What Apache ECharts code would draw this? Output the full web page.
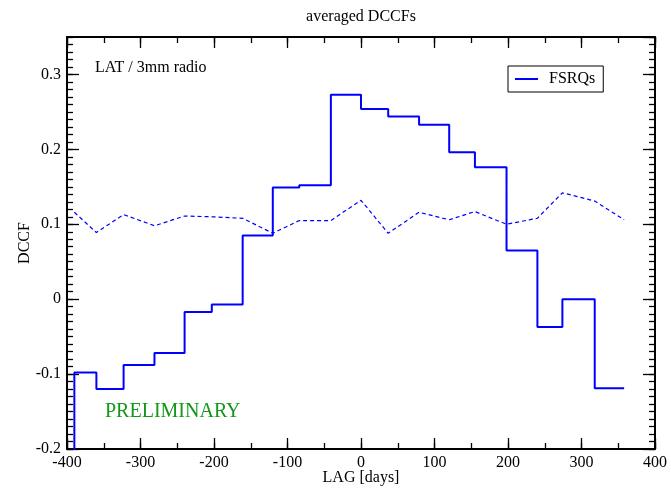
<!DOCTYPE html>
<html>
<head>
<meta charset="utf-8">
<script src="https://cdn.jsdelivr.net/npm/echarts@6/dist/echarts.min.js"></script>
<style>
html,body{margin:0;padding:0;background:#fff;}
#chart{width:671px;height:489px;}
</style>
</head>
<body>
<div id="chart"></div>
<script>
// Lag values (days) of the averaged DCCF bins
var lags = [-390, -360, -323, -281, -240, -203, -161, -120, -84, -41, 0, 37, 79, 120, 155, 198, 240, 274, 318, 358];
// FSRQs averaged DCCF (solid stairs); first value lies below the plotted range
var fsrqDCCF = [-0.30, -0.098, -0.120, -0.088, -0.072, -0.017, -0.007, 0.085, 0.149, 0.152, 0.273, 0.254, 0.244, 0.233, 0.196, 0.176, 0.065, -0.037, 0.000, -0.119];
// dashed reference curve
var refDCCF = [0.116, 0.089, 0.113, 0.098, 0.111, 0.110, 0.108, 0.088, 0.105, 0.105, 0.132, 0.088, 0.116, 0.106, 0.117, 0.100, 0.108, 0.142, 0.131, 0.106];
var xTicks = [-400, -300, -200, -100, 0, 100, 200, 300, 400];
var yTicks = [-0.2, -0.1, 0, 0.1, 0.2, 0.3];

var FONT = '"Liberation Serif", "DejaVu Serif", serif';
var chart = echarts.init(document.getElementById('chart'), null, {renderer: 'canvas'});

function zip(a, b) { return a.map(function (v, i) { return [v, b[i]]; }); }

var xMin = xTicks[0], xMax = xTicks[xTicks.length - 1];
var yMin = yTicks[0], yMax = 0.35;

function xAx(pos, interval, len, major, label) {
  return {
    type: 'value', position: pos, min: xMin, max: xMax, interval: interval,
    axisLine: {show: major, onZero: false, lineStyle: {color: '#000', width: 2}},
    axisTick: {show: true, inside: true, length: len, lineStyle: {color: '#000', width: 1.3}},
    axisLabel: {show: label, color: '#000', fontFamily: FONT, fontSize: 16, margin: 6},
    splitLine: {show: false},
    name: label ? 'LAG [days]' : '', nameLocation: 'middle', nameGap: 21, nameMoveOverlap: false,
    nameTextStyle: {color: '#000', fontFamily: FONT, fontSize: 16}
  };
}
function yAx(pos, interval, len, major, label) {
  return {
    type: 'value', position: pos, min: yMin, max: yMax, interval: interval,
    axisLine: {show: major, onZero: false, lineStyle: {color: '#000', width: 2}},
    axisTick: {show: true, inside: true, length: len, lineStyle: {color: '#000', width: 1.3}},
    axisLabel: {show: label, color: '#000', fontFamily: FONT, fontSize: 16, margin: 6,
      showMaxLabel: false,
      formatter: function (v) { return yTicks.some(function (t) { return Math.abs(t - v) < 1e-9; }) ? String(Math.round(v * 10) / 10) : ''; }},
    splitLine: {show: false},
    name: label ? 'DCCF' : '', nameLocation: 'middle', nameGap: 34, nameRotate: 90, nameMoveOverlap: false,
    nameTextStyle: {color: '#000', fontFamily: FONT, fontSize: 16}
  };
}

var option = {
  backgroundColor: '#fff',
  animation: false,
  grid: {left: 67, right: 16, top: 37, bottom: 40, containLabel: false, outerBoundsMode: 'none'},
  xAxis: [
    xAx('bottom', 100, 11, true, true),
    xAx('bottom', 50, 6, false, false),
    xAx('top', 100, 11, true, false),
    xAx('top', 50, 6, false, false)
  ],
  yAxis: [
    yAx('left', 0.1, 12, true, true),
    yAx('left', 0.01, 6, false, false),
    yAx('right', 0.1, 12, true, false),
    yAx('right', 0.01, 6, false, false)
  ],
  legend: {
    data: [{name: 'FSRQs', icon: 'rect'}],
    left: 508, top: 66,
    orient: 'vertical',
    itemWidth: 23, itemHeight: 2,
    padding: [5, 8, 5, 7],
    borderColor: '#000', borderWidth: 1,
    backgroundColor: '#fff',
    textStyle: {color: '#000', fontFamily: FONT, fontSize: 16, padding: [0, 0, 0, 6]}
  },
  series: [
    {
      name: 'FSRQs', type: 'line', step: 'start',
      data: zip(lags, fsrqDCCF),
      xAxisIndex: 0, yAxisIndex: 0,
      showSymbol: false, symbol: 'none', clip: true,
      lineStyle: {color: '#0000ff', width: 2},
      itemStyle: {color: '#0000ff'},
      z: 3
    },
    {
      name: 'ref', type: 'line',
      data: zip(lags, refDCCF),
      xAxisIndex: 0, yAxisIndex: 0,
      showSymbol: false, symbol: 'none', clip: true,
      lineStyle: {color: '#0000ff', width: 1.2, type: [4, 3]},
      itemStyle: {color: '#0000ff'},
      z: 2
    }
  ],
  graphic: [
    {type: 'text', style: {text: 'averaged DCCFs', x: 361, y: 17, fill: '#000', font: '16px ' + FONT, align: 'center', verticalAlign: 'middle'}},
    {type: 'text', style: {text: 'LAT / 3mm radio', x: 95, y: 68, fill: '#000', font: '16px ' + FONT, align: 'left', verticalAlign: 'middle'}},
    {type: 'text', style: {text: 'PRELIMINARY', x: 105, y: 412, fill: '#13961a', font: '20px ' + FONT, align: 'left', verticalAlign: 'middle'}}
  ]
};
chart.setOption(option);
</script>
</body>
</html>
